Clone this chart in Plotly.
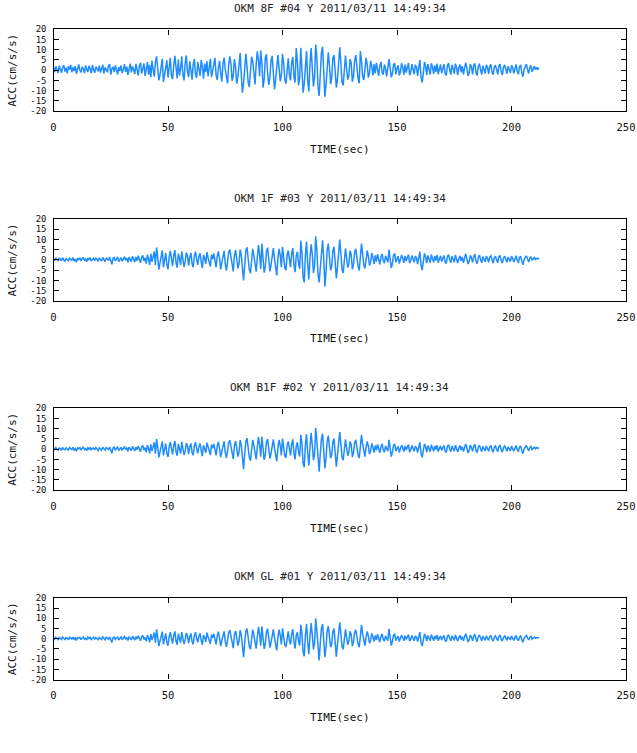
import numpy as np
import plotly.graph_objects as go

# ---------------- data (acceleration, cm/s/s, sampled every 0.5 s) ----------------
DT = 0.5
titles = ["OKM 8F #04 Y 2011/03/11 14:49:34",
          "OKM 1F #03 Y 2011/03/11 14:49:34",
          "OKM B1F #02 Y 2011/03/11 14:49:34",
          "OKM GL #01 Y 2011/03/11 14:49:34"]

acc_8f = [
 1.4,-0.9,1.9,0.2,-1.4,2.2,0.5,-1.2,1.6,2.4,-0.7,1.2,-1.6,1.9,0.4,2.6,-1.0,1.4,-0.4,2.0,
 -1.8,1.3,2.8,0.1,-1.1,1.7,0.6,-1.4,2.3,0.3,-0.8,2.1,0.8,-1.5,2.5,0.2,-1.3,1.8,0.5,-0.6,
 2.2,-1.2,0.6,2.7,-1.7,1.4,0.3,-1.0,2.0,3.0,-2.2,0.7,1.6,-0.9,2.4,0.4,-2.0,1.5,-0.4,2.3,
 -1.4,0.5,2.9,-0.8,1.7,-2.3,0.9,3.2,-1.1,1.9,0.2,-1.9,3.1,0.6,-2.6,2.2,3.6,-1.6,0.4,3.3,
 -2.8,1.0,4.0,-2.2,2.6,-3.4,4.6,0.5,-3.2,3.8,6.8,1.2,-4.9,-2.4,3.4,5.6,-5.8,-1.4,3.0,4.8,
 -3.6,0.8,6.0,-2.9,-4.4,2.4,7.0,1.5,-4.0,5.2,-2.6,0.6,6.8,-2.2,-5.0,3.6,7.2,-0.8,-3.4,4.4,
 1.0,-4.6,2.8,5.4,-2.0,-3.8,4.0,0.2,-2.8,5.0,1.8,-4.2,3.2,-1.0,4.4,-3.0,1.4,5.6,-3.4,0.4,
 3.4,6.0,-2.4,-4.8,1.2,4.6,-1.4,-5.6,3.0,6.2,0.4,-4.0,-6.4,2.6,6.8,3.0,-5.2,-2.6,5.4,1.6,
 -6.6,-3.4,4.4,8.4,-1.8,-11.0,-6.4,3.6,8.0,2.0,-5.8,-8.2,1.0,6.6,4.4,-3.6,-7.0,2.8,9.2,5.0,
 -3.0,9.6,3.4,-8.5,-4.4,6.2,7.8,-1.6,-7.2,-3.4,4.8,7.0,-2.6,-9.4,-4.6,4.0,7.4,1.0,-5.4,-2.4,
 8.0,3.4,-4.4,-6.6,2.4,5.8,-2.2,-5.0,3.8,6.4,-3.4,-6.0,10.8,4.6,-7.4,-3.6,11.0,2.4,-11.0,-6.4,
 4.4,9.4,-4.8,-10.4,3.0,10.8,1.0,-8.0,-3.4,12.5,6.4,-8.4,-12.6,-4.4,8.6,11.4,-2.4,-13.0,-7.4,4.0,
 8.8,2.4,-6.8,-3.6,6.0,7.4,-1.8,-8.5,-4.4,5.0,11.2,3.8,-6.0,-7.4,3.2,7.2,0.6,-4.6,-2.4,5.4,
 3.6,-5.6,-3.0,4.8,7.4,0.8,-4.0,-6.4,9.4,4.4,-3.2,-4.8,2.0,6.0,2.6,-3.6,-1.4,4.6,1.8,-2.6,
 3.0,-1.6,3.6,0.4,-2.8,2.2,4.0,-1.0,-2.2,2.8,0.8,-3.0,2.0,5.4,1.4,-3.4,-1.8,2.6,3.4,-2.0,
 1.0,2.4,-2.6,-0.8,3.4,1.4,-2.2,2.8,-1.2,1.8,3.6,-2.4,-1.0,3.0,0.6,-2.0,2.6,1.6,-2.8,1.2,
 5.0,-3.4,-6.0,-1.4,4.0,2.0,-2.4,3.0,0.0,-2.2,3.4,1.6,-1.8,2.4,-0.8,3.2,-2.0,1.0,2.8,-1.4,
 1.8,3.0,-1.6,-2.6,2.2,3.4,0.2,-2.2,2.6,1.0,-1.8,3.2,1.4,-2.4,1.2,2.8,-1.0,2.0,-2.0,1.6,
 3.6,1.2,-2.8,-1.4,3.0,1.6,-2.0,2.4,3.4,-1.2,-2.6,1.8,3.2,0.2,-2.2,2.2,0.4,-1.6,2.6,1.4,
 -1.8,2.0,2.8,-1.0,-2.2,1.6,2.4,0.0,-2.0,2.2,3.0,-0.8,-2.4,1.4,2.6,0.6,-1.8,2.0,0.2,-1.4,
 2.4,1.4,-1.6,1.0,2.8,-0.6,-2.0,1.8,2.6,-1.2,-3.2,0.2,2.2,3.0,0.4,-1.6,1.4,2.4,-0.8,1.0,
 2.0,0.2,1.4,0.4,1.2]

acc_1f = [
 0.6,-0.4,1.0,0.2,-0.6,0.8,0.4,-0.5,1.1,0.0,-0.8,0.7,0.3,-0.4,0.9,0.5,-0.2,1.2,-0.6,0.4,
 -1.2,0.8,0.2,1.0,-0.5,0.6,1.3,-0.3,0.4,-0.9,0.9,0.1,1.1,-0.6,0.5,0.8,-0.4,1.0,0.2,-0.7,
 0.9,0.3,-0.6,1.2,0.0,-0.8,1.0,0.4,-0.3,1.4,-0.5,-2.2,0.8,1.2,-0.6,0.3,1.5,-0.9,0.6,1.1,
 -0.7,0.4,1.6,-0.2,0.9,-1.2,1.3,0.3,-0.8,1.8,0.5,-1.0,1.4,-0.4,2.0,0.2,-1.4,1.2,2.2,-0.6,
 1.0,-1.8,2.6,0.4,-2.4,3.0,-1.0,1.6,4.2,-2.6,6.0,1.4,-4.8,-1.6,2.8,4.6,-3.6,0.2,3.4,-2.4,
 -4.6,1.2,4.4,0.6,-3.0,2.2,4.8,-1.4,-3.8,3.0,1.0,-2.6,4.2,0.4,-3.4,-1.0,3.6,2.0,-2.8,1.4,
 3.4,-1.8,-3.6,2.0,4.0,0.2,-2.4,1.6,3.2,-1.0,-4.0,2.4,0.8,-2.0,3.8,1.0,-1.4,-3.2,2.6,0.4,
 3.2,-1.2,-3.6,1.8,4.2,0.6,-4.6,-1.4,2.8,4.4,-2.0,-5.2,-1.0,3.8,5.0,1.2,-3.4,-5.6,2.0,4.8,
 0.8,-4.2,-2.0,5.0,2.4,-6.4,-10.0,-2.6,4.6,6.2,0.4,-4.8,-6.6,1.8,5.4,2.2,-3.0,-5.8,1.0,7.2,
 3.0,-4.4,8.0,1.6,-6.2,-3.4,4.2,6.0,-1.8,-5.6,-2.4,3.6,5.8,0.6,-4.8,-7.6,1.0,5.4,2.2,-3.6,
 6.4,1.4,-3.8,-5.0,2.2,4.6,-1.0,-3.6,3.2,5.8,-2.4,-6.0,2.0,4.0,-1.6,-4.4,9.4,3.6,-8.6,-11.0,
 2.4,9.0,-2.0,-9.6,1.0,7.6,2.8,-6.4,-3.0,11.5,5.0,-7.0,-11.0,-2.6,6.2,9.6,0.8,-13.0,-6.0,5.0,
 8.0,2.4,-5.2,-3.0,4.4,6.4,-1.2,-9.0,-3.6,4.0,10.0,2.8,-4.8,-6.4,1.6,5.6,0.8,-3.8,-1.6,4.6,
 2.6,-4.6,-2.2,3.8,5.4,0.6,-3.2,-5.2,1.0,8.0,3.0,-2.4,-4.2,1.4,4.6,1.6,-2.8,-0.8,3.4,1.0,
 -2.0,2.2,-0.8,2.8,0.2,-2.2,1.4,3.0,-0.4,-1.6,2.0,0.6,-1.2,5.0,1.4,-4.0,-1.6,2.4,2.8,-1.2,
 0.4,1.8,-1.8,-0.2,2.4,0.8,-1.4,2.0,-0.6,1.2,2.6,-1.6,-0.4,2.2,0.2,-1.2,1.8,1.0,-2.0,0.6,
 4.0,-2.6,-5.0,-0.8,3.2,1.4,-1.6,2.2,0.2,-1.4,2.6,1.0,-1.2,1.8,-0.2,2.4,-1.4,0.4,2.0,-0.8,
 1.2,2.2,-1.0,-1.8,1.6,2.6,0.2,-1.4,1.8,0.4,-1.2,2.4,0.8,-1.6,0.6,2.0,-0.4,1.4,-1.4,1.0,
 3.0,0.6,-2.0,-0.8,2.2,1.0,-1.2,1.6,2.8,-0.6,-1.8,1.2,2.4,0.2,-1.4,1.6,0.4,-1.0,1.8,0.8,
 -1.2,1.4,2.0,-0.4,-1.6,1.0,1.8,0.0,-1.4,1.6,2.2,-0.2,-1.6,0.8,1.8,0.4,-1.2,1.4,0.2,-0.8,
 1.8,0.8,-1.0,0.4,2.0,-0.2,-1.4,1.2,1.8,-0.6,-2.4,0.2,1.4,2.0,0.4,-1.0,0.8,1.6,-0.2,0.4,
 1.2,0.2,0.8,0.4,1.0]

acc_b1f = [
 0.4,-0.4,0.8,0.1,-0.5,0.6,0.3,-0.6,0.9,0.0,-0.3,0.7,0.2,-0.5,0.8,0.4,-0.2,0.9,-0.4,0.3,
 -1.0,0.6,0.2,0.8,-0.4,0.5,1.0,-0.2,0.3,-0.7,0.7,0.0,0.9,-0.5,0.4,0.6,-0.3,0.8,0.1,-0.6,
 0.7,0.2,-0.5,1.0,0.0,-0.6,0.8,0.3,-0.2,1.1,-0.4,-2.0,0.6,1.0,-0.5,0.2,1.2,-0.7,0.5,0.9,
 -0.6,0.3,1.3,-0.2,0.7,-1.0,1.0,0.2,-0.7,1.4,0.4,-0.8,1.1,-0.3,1.6,0.1,-1.2,1.0,1.8,-0.5,
 0.8,-1.5,2.0,0.3,-2.0,2.4,-0.8,1.2,3.4,-2.2,5.0,1.0,-4.0,-1.4,2.2,3.8,-3.0,0.2,2.8,-2.0,
 -3.8,1.0,3.6,0.4,-2.6,1.8,4.0,-1.2,-3.2,2.6,0.8,-2.2,3.6,0.2,-2.8,-0.8,3.0,1.6,-2.4,1.2,
 2.8,-1.6,-3.0,1.6,3.4,0.2,-2.0,1.4,2.8,-0.8,-3.4,2.0,0.6,-1.8,3.2,0.8,-1.2,-2.8,2.2,0.4,
 2.6,-1.0,-3.0,1.6,3.6,0.4,-3.8,-1.2,2.4,3.8,-1.6,-4.2,-0.8,3.2,4.4,1.0,-2.8,-4.8,1.8,4.0,
 0.6,-3.6,-1.6,4.4,2.0,-5.2,-9.8,-2.2,3.8,5.4,0.4,-4.0,-5.6,1.4,4.6,1.8,-2.6,-5.0,0.8,6.0,
 2.4,-3.6,6.2,1.2,-5.2,-2.8,3.6,5.0,-1.4,-4.6,-2.0,3.0,4.8,0.4,-4.0,-6.0,0.8,4.6,1.8,-3.0,
 5.2,1.2,-3.2,-4.2,1.8,3.8,-0.8,-3.0,2.6,4.8,-2.0,-5.0,1.6,3.4,-1.4,-3.6,7.0,2.8,-7.0,-8.8,
 2.0,7.4,-1.6,-8.0,0.8,8.0,2.2,-5.4,-2.4,10.4,4.2,-6.0,-11.0,-2.2,5.2,7.6,0.6,-9.4,-4.6,4.0,
 6.6,2.0,-4.4,-2.6,3.6,5.2,-1.0,-8.6,-3.0,3.4,8.4,2.4,-4.0,-5.4,1.4,4.8,0.6,-3.2,-1.4,3.8,
 2.2,-3.8,-1.8,3.2,4.6,0.4,-2.8,-4.4,0.8,7.0,2.6,-2.0,-3.6,1.2,3.8,1.4,-2.4,-0.6,2.8,0.8,
 -1.6,1.8,-0.6,2.4,0.2,-1.8,1.2,2.6,-0.4,-1.4,1.6,0.4,-1.0,4.6,1.2,-3.6,-1.4,2.0,2.4,-1.0,
 0.4,1.4,-1.6,-0.2,2.0,0.6,-1.2,1.6,-0.4,1.0,2.2,-1.4,-0.4,1.8,0.2,-1.0,1.4,0.8,-1.6,0.6,
 3.4,-2.2,-4.0,-0.6,2.6,1.2,-1.4,1.8,0.2,-1.2,2.2,0.8,-1.0,1.6,-0.2,2.0,-1.2,0.4,1.6,-0.6,
 1.0,1.8,-0.8,-1.6,1.4,2.2,0.2,-1.2,1.6,0.4,-1.0,2.0,0.6,-1.4,0.6,1.8,-0.4,1.2,-1.2,0.8,
 2.6,0.6,-1.8,-0.6,2.0,0.8,-1.0,1.4,2.4,-0.6,-1.6,1.0,2.0,0.2,-1.2,1.4,0.4,-0.8,1.6,0.6,
 -1.0,1.2,1.8,-0.4,-1.4,1.0,1.6,0.0,-1.2,1.4,2.0,-0.2,-1.4,0.8,1.6,0.4,-1.0,1.2,0.2,-0.8,
 1.6,0.6,-1.0,0.4,1.8,-0.2,-1.2,1.0,1.6,-0.6,-2.2,0.2,1.2,1.8,0.4,-0.8,0.8,1.4,-0.2,0.4,
 1.0,0.2,0.8,0.4,0.8]

acc_gl = [
 0.5,-0.3,0.7,0.0,-0.5,0.6,0.2,-0.4,0.8,0.1,-0.4,0.6,0.3,-0.6,0.7,0.3,-0.2,0.8,-0.3,0.4,
 -0.9,0.5,0.3,0.7,-0.5,0.4,0.9,-0.3,0.2,-0.6,0.8,0.1,0.7,-0.4,0.3,0.7,-0.2,0.6,0.0,-0.5,
 0.6,0.3,-0.4,0.9,0.1,-0.5,0.7,0.2,-0.3,0.9,-0.2,-1.8,0.5,0.8,-0.4,0.3,1.0,-0.6,0.4,0.8,
 -0.5,0.2,1.1,-0.1,0.6,-0.9,0.9,0.3,-0.6,1.2,0.3,-0.7,1.0,-0.2,1.4,0.2,-1.0,0.9,1.6,-0.4,
 0.6,-1.3,1.8,0.4,-1.8,2.2,-0.6,1.0,3.0,-2.0,4.6,0.8,-3.6,-1.2,2.0,3.4,-2.8,0.2,2.6,-1.8,
 -3.4,0.8,3.2,0.4,-2.4,1.6,3.6,-1.0,-3.0,2.4,0.6,-2.0,3.2,0.2,-2.6,-0.6,2.8,1.4,-2.2,1.0,
 2.6,-1.4,-2.8,1.4,3.2,0.2,-1.8,1.2,2.6,-0.8,-3.0,1.8,0.6,-1.6,3.0,0.8,-1.0,-2.6,2.0,0.4,
 2.4,-1.0,-2.8,1.4,3.4,0.4,-3.6,-1.0,2.2,3.6,-1.4,-4.0,-0.8,3.0,4.2,1.0,-2.6,-4.6,1.6,3.8,
 0.6,-3.4,-1.4,4.2,1.8,-5.0,-9.0,-2.0,3.6,5.0,0.4,-3.8,-5.2,1.2,4.4,1.6,-2.4,-4.8,0.8,5.8,
 2.2,-3.4,6.0,1.0,-5.0,-2.6,3.4,4.8,-1.2,-4.4,-1.8,2.8,4.6,0.4,-3.8,-5.8,0.8,4.4,1.6,-2.8,
 5.0,1.0,-3.0,-4.0,1.6,3.6,-0.8,-2.8,2.4,4.6,-1.8,-4.8,1.6,3.2,-1.2,-3.4,6.8,2.6,-6.6,-8.6,
 1.8,7.2,-1.4,-7.6,0.8,7.6,2.0,-5.2,-2.2,10.0,4.0,-5.8,-10.6,-2.0,5.0,7.2,0.6,-9.0,-4.4,3.8,
 6.2,1.8,-4.2,-2.4,3.4,5.0,-0.8,-8.8,-2.8,3.2,8.0,2.2,-3.8,-5.2,1.2,4.6,0.6,-3.0,-1.2,3.6,
 2.0,-3.6,-1.6,3.0,4.4,0.4,-2.6,-4.2,0.8,6.8,2.4,-1.8,-3.4,1.0,3.6,1.2,-2.2,-0.6,2.6,0.8,
 -1.4,1.6,-0.6,2.2,0.2,-1.6,1.0,2.4,-0.4,-1.2,1.4,0.4,-1.0,4.8,1.0,-3.4,-1.2,1.8,2.2,-1.0,
 0.4,1.2,-1.4,-0.2,1.8,0.6,-1.0,1.4,-0.4,0.8,2.0,-1.2,-0.4,1.6,0.2,-1.0,1.2,0.8,-1.4,0.6,
 3.2,-2.0,-3.6,-0.6,2.4,1.0,-1.2,1.6,0.2,-1.0,2.0,0.8,-1.0,1.4,-0.2,1.8,-1.0,0.4,1.4,-0.6,
 0.8,1.6,-0.8,-1.4,1.2,2.0,0.2,-1.0,1.4,0.4,-0.8,1.8,0.6,-1.2,0.6,1.6,-0.4,1.0,-1.0,0.8,
 2.4,0.6,-1.6,-0.6,1.8,0.8,-1.0,1.2,2.2,-0.4,-1.4,1.0,1.8,0.2,-1.0,1.2,0.4,-0.8,1.4,0.6,
 -0.8,1.0,1.6,-0.4,-1.2,0.8,1.4,0.0,-1.0,1.2,1.8,-0.2,-1.2,0.6,1.4,0.4,-0.8,1.0,0.2,-0.6,
 1.4,0.6,-0.8,0.4,1.6,-0.2,-1.0,0.8,1.4,-0.4,-1.8,0.2,1.0,1.6,0.4,-0.6,0.6,1.2,-0.2,0.4,
 0.8,0.2,0.6,0.4,0.8]

series = [acc_8f, acc_1f, acc_b1f, acc_gl]

x_ticks = [0, 50, 100, 150, 200, 250]
y_ticks = [20, 15, 10, 5, 0, -5, -10, -15, -20]
y_tick_text = ["20", "15", "10", "5", "0", "-5", "-10", "-15", "-20"]
x_title = "TIME(sec)"
y_title = "ACC(cm/s/s)"

# ---------------- layout (pixels) ----------------
W, H = 637, 753
LEFT, RIGHT = 53.5, 626.0
TOPS = [29.3, 219.0, 408.3, 597.8]
PH = 81.8
FONT = "DejaVu Sans Mono"
LINE_COLOR = "#1E8CFF"

def py(p):
    return 1 - p / H

fig = go.Figure()
annotations = []
for i, (vals, ttl) in enumerate(zip(series, titles)):
    n = i + 1
    t = np.arange(len(vals)) * DT
    fig.add_trace(go.Scatter(x=t, y=vals, mode="lines",
                             line=dict(color=LINE_COLOR, width=1.5),
                             xaxis=f"x{n}", yaxis=f"y{n}", showlegend=False,
                             hoverinfo="skip"))
    top, bot = TOPS[i], TOPS[i] + PH
    axcommon = dict(showline=True, linecolor="#000", linewidth=1.4, mirror="ticks",
                    ticks="inside", ticklen=5, tickwidth=1.2, tickcolor="#000",
                    showgrid=False, zeroline=False, fixedrange=True, automargin=False)
    fig.layout[f"xaxis{n}"] = dict(axcommon, domain=[LEFT / W, RIGHT / W], range=[0, 250],
                                   tickvals=x_ticks, ticktext=[str(v) for v in x_ticks],
                                   anchor=f"y{n}", ticklabelstandoff=6,
                                   tickfont=dict(family=FONT, size=10.5, color="#111"))
    fig.layout[f"yaxis{n}"] = dict(axcommon, domain=[py(bot), py(top)], range=[-20, 20],
                                   tickvals=y_ticks, ticktext=y_tick_text,
                                   anchor=f"x{n}", ticklabelstandoff=4,
                                   tickfont=dict(family=FONT, size=9, color="#111"))
    cx = (LEFT + RIGHT) / 2 / W
    annotations.append(dict(text=ttl, x=cx, y=py(top - 21), xref="paper", yref="paper",
                            xanchor="center", yanchor="middle", showarrow=False,
                            font=dict(family=FONT, size=11, color="#222")))
    annotations.append(dict(text=x_title, x=cx, y=py(bot + 38), xref="paper", yref="paper",
                            xanchor="center", yanchor="middle", showarrow=False,
                            font=dict(family=FONT, size=11, color="#111")))
    annotations.append(dict(text=y_title, x=12.5 / W, y=py(top + PH / 2), xref="paper",
                            yref="paper", xanchor="center", yanchor="middle",
                            showarrow=False, textangle=-90,
                            font=dict(family=FONT, size=11, color="#111")))

fig.update_layout(width=W, height=H, margin=dict(l=0, r=0, t=0, b=0),
                  paper_bgcolor="white", plot_bgcolor="white",
                  annotations=annotations, showlegend=False)

fig.write_html("out.html", config={"displayModeBar": False})
